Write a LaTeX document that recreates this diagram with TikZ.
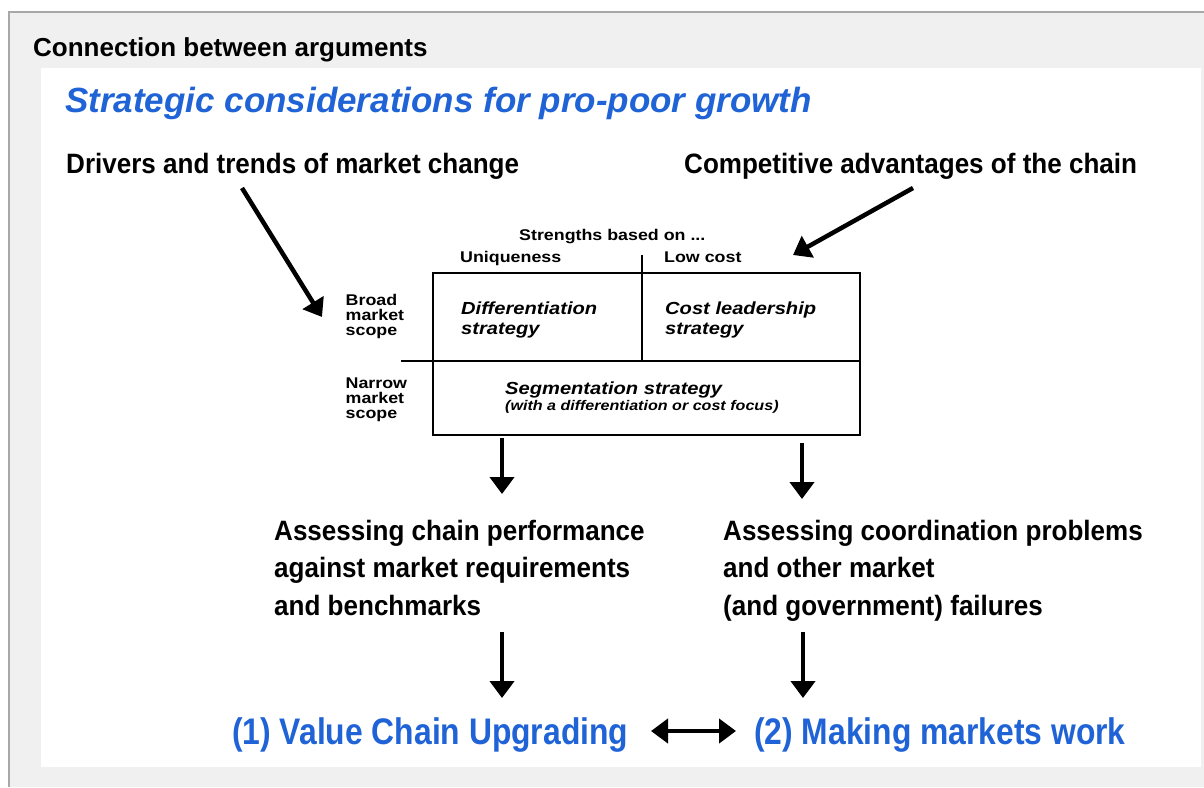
\documentclass[tikz,border=0pt]{standalone}
\usepackage{fontspec}
\setmainfont{Liberation Sans}
\newfontfamily\wsans[FakeStretch=1.15]{Liberation Sans}
\newfontfamily\nsans[FakeStretch=0.93]{Liberation Sans}
\usetikzlibrary{arrows.meta}
\definecolor{panel}{HTML}{F0F0F0}
\definecolor{panelline}{HTML}{A8A8A8}
\definecolor{tblue}{HTML}{1F63D6}
\tikzset{
  txt/.style={inner sep=0pt, anchor=base west},
  hdr/.style={txt, font=\fontsize{26}{30}\selectfont\bfseries},
  big/.style={txt, font=\nsans\fontsize{28}{37.5}\selectfont\bfseries, align=left},
  small/.style={txt, font=\wsans\fontsize{15.5}{14.8}\selectfont\bfseries, align=left},
  cell/.style={txt, font=\wsans\fontsize{17.5}{19.5}\selectfont\bfseries\itshape, align=left},
  boxline/.style={line width=2pt, black},
  arr/.style={line width=4.5pt, -{Triangle[width=24pt,length=17pt]}},
  darr/.style={line width=4.5pt, {Triangle[width=24pt,length=17pt]}-{Triangle[width=24pt,length=17pt]}},
}
\begin{document}
\begin{tikzpicture}[x=1pt,y=-1pt]
\useasboundingbox (0,0) rectangle (1204,787);
\fill[white] (0,0) rectangle (1204,787);
\fill[panel] (9,12) rectangle (1204,787);
\draw[panelline, line width=2pt] (9,787) -- (9,12) -- (1204,12);
\fill[white] (41,68) rectangle (1201,767);

\node[hdr] (conn) at (33,56) {Connection between arguments};
\node[txt, text=tblue, font=\fontsize{35}{40}\selectfont\bfseries\itshape] (title) at (65,112) {Strategic considerations for pro-poor growth};

\node[big] (drivers) at (66,173) {Drivers and trends of market change};
\node[big] (compet) at (684,173) {Competitive advantages of the chain};

% matrix
\node[small] (strength) at (519,240) {Strengths based on ...};
\node[small] (uniq) at (460,262) {Uniqueness};
\node[small] (lowcost) at (664,262) {Low cost};
\node[small] (broad) at (345.5,335) {Broad\\market\\scope};
\node[small] (narrow) at (345.5,418) {Narrow\\market\\scope};
\node[cell] (diff) at (461,334) {Differentiation\\strategy};
\node[cell] (costl) at (665,334) {Cost leadership\\strategy};
\node[cell] (segm) at (505,394) {Segmentation strategy};
\node[txt, font=\wsans\fontsize{14}{18}\selectfont\bfseries\itshape] (segnote) at (505,410) {(with a differentiation or cost focus)};

\draw[boxline] (433,273) rectangle (860,435);
\draw[boxline] (401,361) -- (860,361);
\draw[boxline] (642,255) -- (642,361);

% assessing
\node[big] (assess1) at (274,615) {Assessing chain performance\\against market requirements\\and benchmarks};
\node[big] (assess2) at (723,615) {Assessing coordination problems\\and other market\\(and government) failures};

% bottom
\node[txt, text=tblue] (vcu) at (232,744) {\scalebox{0.86}[1]{\fontsize{37}{40}\selectfont\bfseries (1) Value Chain Upgrading}};
\node[txt, text=tblue] (mmw) at (754,744) {\scalebox{0.86}[1]{\fontsize{37}{40}\selectfont\bfseries (2) Making markets work}};

% arrows
\coordinate (a1s) at (242,188); \coordinate (a1e) at (322,317);
\coordinate (a2s) at (913,188); \coordinate (a2e) at (793,255);
\coordinate (b1s) at (502,438); \coordinate (b1e) at (502,494);
\coordinate (b2s) at (802,443); \coordinate (b2e) at (802,499);
\coordinate (c1s) at (502,632); \coordinate (c1e) at (502,698);
\coordinate (c2s) at (803,632); \coordinate (c2e) at (803,698);
\coordinate (dl) at (651,731); \coordinate (dr) at (736,731);
\draw[arr] (a1s) -- (a1e);
\draw[arr] (a2s) -- (a2e);
\draw[arr] (b1s) -- (b1e);
\draw[arr] (b2s) -- (b2e);
\draw[arr] (c1s) -- (c1e);
\draw[arr] (c2s) -- (c2e);
\draw[darr] (dl) -- (dr);
\end{tikzpicture}
\end{document}
